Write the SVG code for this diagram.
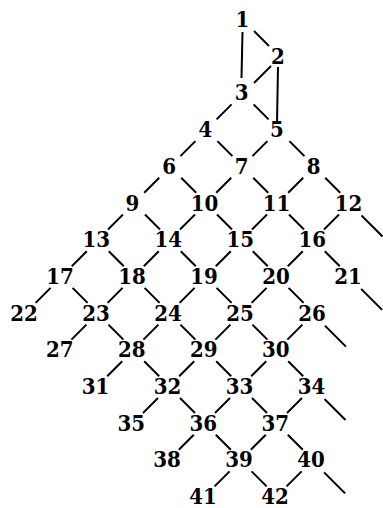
<svg xmlns="http://www.w3.org/2000/svg" width="383" height="508" viewBox="0 0 383 508">
<style>
text{font-family:"DejaVu Serif Condensed","DejaVu Serif",serif;font-stretch:condensed;font-weight:bold;font-size:22px;text-anchor:middle;fill:#000}
#edges line{stroke:#000;stroke-width:2;stroke-linecap:butt}
</style>
<rect width="383" height="508" fill="#fff"/>
<g id="edges">
<line x1="254" y1="31" x2="269" y2="46"/>
<line x1="242.5" y1="32" x2="241.5" y2="78"/>
<line x1="271" y1="66" x2="254" y2="83"/>
<line x1="278" y1="67" x2="277" y2="123"/>
<line x1="231.6" y1="104.4" x2="216.6" y2="119.4"/>
<line x1="253.6" y1="104.4" x2="268.6" y2="119.4"/>
<line x1="195.4" y1="141.1" x2="180.4" y2="156.1"/>
<line x1="217.4" y1="141.1" x2="232.4" y2="156.1"/>
<line x1="267.4" y1="141.1" x2="252.4" y2="156.1"/>
<line x1="289.4" y1="141.1" x2="304.4" y2="156.1"/>
<line x1="159.2" y1="177.8" x2="144.2" y2="192.8"/>
<line x1="181.2" y1="177.8" x2="196.2" y2="192.8"/>
<line x1="231.2" y1="177.8" x2="216.2" y2="192.8"/>
<line x1="253.2" y1="177.8" x2="268.2" y2="192.8"/>
<line x1="303.2" y1="177.8" x2="288.2" y2="192.8"/>
<line x1="325.2" y1="177.8" x2="340.2" y2="192.8"/>
<line x1="123" y1="214.5" x2="108" y2="229.5"/>
<line x1="145" y1="214.5" x2="160" y2="229.5"/>
<line x1="195" y1="214.5" x2="180" y2="229.5"/>
<line x1="217" y1="214.5" x2="232" y2="229.5"/>
<line x1="267" y1="214.5" x2="252" y2="229.5"/>
<line x1="289" y1="214.5" x2="304" y2="229.5"/>
<line x1="339" y1="214.5" x2="324" y2="229.5"/>
<line x1="361.5" y1="215.5" x2="382.5" y2="236.5"/>
<line x1="86.8" y1="251.2" x2="71.8" y2="266.2"/>
<line x1="108.8" y1="251.2" x2="123.8" y2="266.2"/>
<line x1="158.8" y1="251.2" x2="143.8" y2="266.2"/>
<line x1="180.8" y1="251.2" x2="195.8" y2="266.2"/>
<line x1="230.8" y1="251.2" x2="215.8" y2="266.2"/>
<line x1="252.8" y1="251.2" x2="267.8" y2="266.2"/>
<line x1="302.8" y1="251.2" x2="287.8" y2="266.2"/>
<line x1="324.8" y1="251.2" x2="339.8" y2="266.2"/>
<line x1="50.6" y1="287.9" x2="35.6" y2="302.9"/>
<line x1="72.6" y1="287.9" x2="87.6" y2="302.9"/>
<line x1="122.6" y1="287.9" x2="107.6" y2="302.9"/>
<line x1="144.6" y1="287.9" x2="159.6" y2="302.9"/>
<line x1="194.6" y1="287.9" x2="179.6" y2="302.9"/>
<line x1="216.6" y1="287.9" x2="231.6" y2="302.9"/>
<line x1="266.6" y1="287.9" x2="251.6" y2="302.9"/>
<line x1="288.6" y1="287.9" x2="303.6" y2="302.9"/>
<line x1="361.1" y1="288.9" x2="382.1" y2="309.9"/>
<line x1="86.4" y1="324.6" x2="71.4" y2="339.6"/>
<line x1="108.4" y1="324.6" x2="123.4" y2="339.6"/>
<line x1="158.4" y1="324.6" x2="143.4" y2="339.6"/>
<line x1="180.4" y1="324.6" x2="195.4" y2="339.6"/>
<line x1="230.4" y1="324.6" x2="215.4" y2="339.6"/>
<line x1="252.4" y1="324.6" x2="267.4" y2="339.6"/>
<line x1="302.4" y1="324.6" x2="287.4" y2="339.6"/>
<line x1="324.9" y1="325.6" x2="345.9" y2="346.6"/>
<line x1="122.2" y1="361.3" x2="107.2" y2="376.3"/>
<line x1="144.2" y1="361.3" x2="159.2" y2="376.3"/>
<line x1="194.2" y1="361.3" x2="179.2" y2="376.3"/>
<line x1="216.2" y1="361.3" x2="231.2" y2="376.3"/>
<line x1="266.2" y1="361.3" x2="251.2" y2="376.3"/>
<line x1="288.2" y1="361.3" x2="303.2" y2="376.3"/>
<line x1="158" y1="398" x2="143" y2="413"/>
<line x1="180" y1="398" x2="195" y2="413"/>
<line x1="230" y1="398" x2="215" y2="413"/>
<line x1="252" y1="398" x2="267" y2="413"/>
<line x1="302" y1="398" x2="287" y2="413"/>
<line x1="324.5" y1="399" x2="345.5" y2="420"/>
<line x1="193.8" y1="434.7" x2="178.8" y2="449.7"/>
<line x1="215.8" y1="434.7" x2="230.8" y2="449.7"/>
<line x1="265.8" y1="434.7" x2="250.8" y2="449.7"/>
<line x1="287.8" y1="434.7" x2="302.8" y2="449.7"/>
<line x1="229.6" y1="471.4" x2="214.6" y2="486.4"/>
<line x1="251.6" y1="471.4" x2="266.6" y2="486.4"/>
<line x1="301.6" y1="471.4" x2="286.6" y2="486.4"/>
<line x1="324.1" y1="472.4" x2="345.1" y2="493.4"/>
</g>
<g id="n1"><text x="242.5" y="27">1</text></g>
<g id="n2"><text x="277.8" y="63.7">2</text></g>
<g id="n3"><text x="241.6" y="100.4">3</text></g>
<g id="n4"><text x="205.4" y="137.1">4</text></g>
<g id="n5"><text x="276.9" y="137.1">5</text></g>
<g id="n6"><text x="169.2" y="173.8">6</text></g>
<g id="n7"><text x="241.7" y="173.8">7</text></g>
<g id="n8"><text x="313.7" y="173.8">8</text></g>
<g id="n9"><text x="132.5" y="210.5">9</text></g>
<g id="n10"><text x="204.5" y="210.5">10</text></g>
<g id="n11"><text x="276.5" y="210.5">11</text></g>
<g id="n12"><text x="348.5" y="210.5">12</text></g>
<g id="n13"><text x="96.3" y="247.2">13</text></g>
<g id="n14"><text x="168.3" y="247.2">14</text></g>
<g id="n15"><text x="240.3" y="247.2">15</text></g>
<g id="n16"><text x="312.3" y="247.2">16</text></g>
<g id="n17"><text x="60.1" y="283.9">17</text></g>
<g id="n18"><text x="132.1" y="283.9">18</text></g>
<g id="n19"><text x="204.1" y="283.9">19</text></g>
<g id="n20"><text x="276.1" y="283.9">20</text></g>
<g id="n21"><text x="348.1" y="283.9">21</text></g>
<g id="n22"><text x="23.9" y="320.6">22</text></g>
<g id="n23"><text x="95.9" y="320.6">23</text></g>
<g id="n24"><text x="167.9" y="320.6">24</text></g>
<g id="n25"><text x="239.9" y="320.6">25</text></g>
<g id="n26"><text x="311.9" y="320.6">26</text></g>
<g id="n27"><text x="59.7" y="357.3">27</text></g>
<g id="n28"><text x="131.7" y="357.3">28</text></g>
<g id="n29"><text x="203.7" y="357.3">29</text></g>
<g id="n30"><text x="275.7" y="357.3">30</text></g>
<g id="n31"><text x="95.5" y="394">31</text></g>
<g id="n32"><text x="167.5" y="394">32</text></g>
<g id="n33"><text x="239.5" y="394">33</text></g>
<g id="n34"><text x="311.5" y="394">34</text></g>
<g id="n35"><text x="131.3" y="430.7">35</text></g>
<g id="n36"><text x="203.3" y="430.7">36</text></g>
<g id="n37"><text x="275.3" y="430.7">37</text></g>
<g id="n38"><text x="167.1" y="467.4">38</text></g>
<g id="n39"><text x="239.1" y="467.4">39</text></g>
<g id="n40"><text x="311.1" y="467.4">40</text></g>
<g id="n41"><text x="202.9" y="504.1">41</text></g>
<g id="n42"><text x="274.9" y="504.1">42</text></g>
</svg>
